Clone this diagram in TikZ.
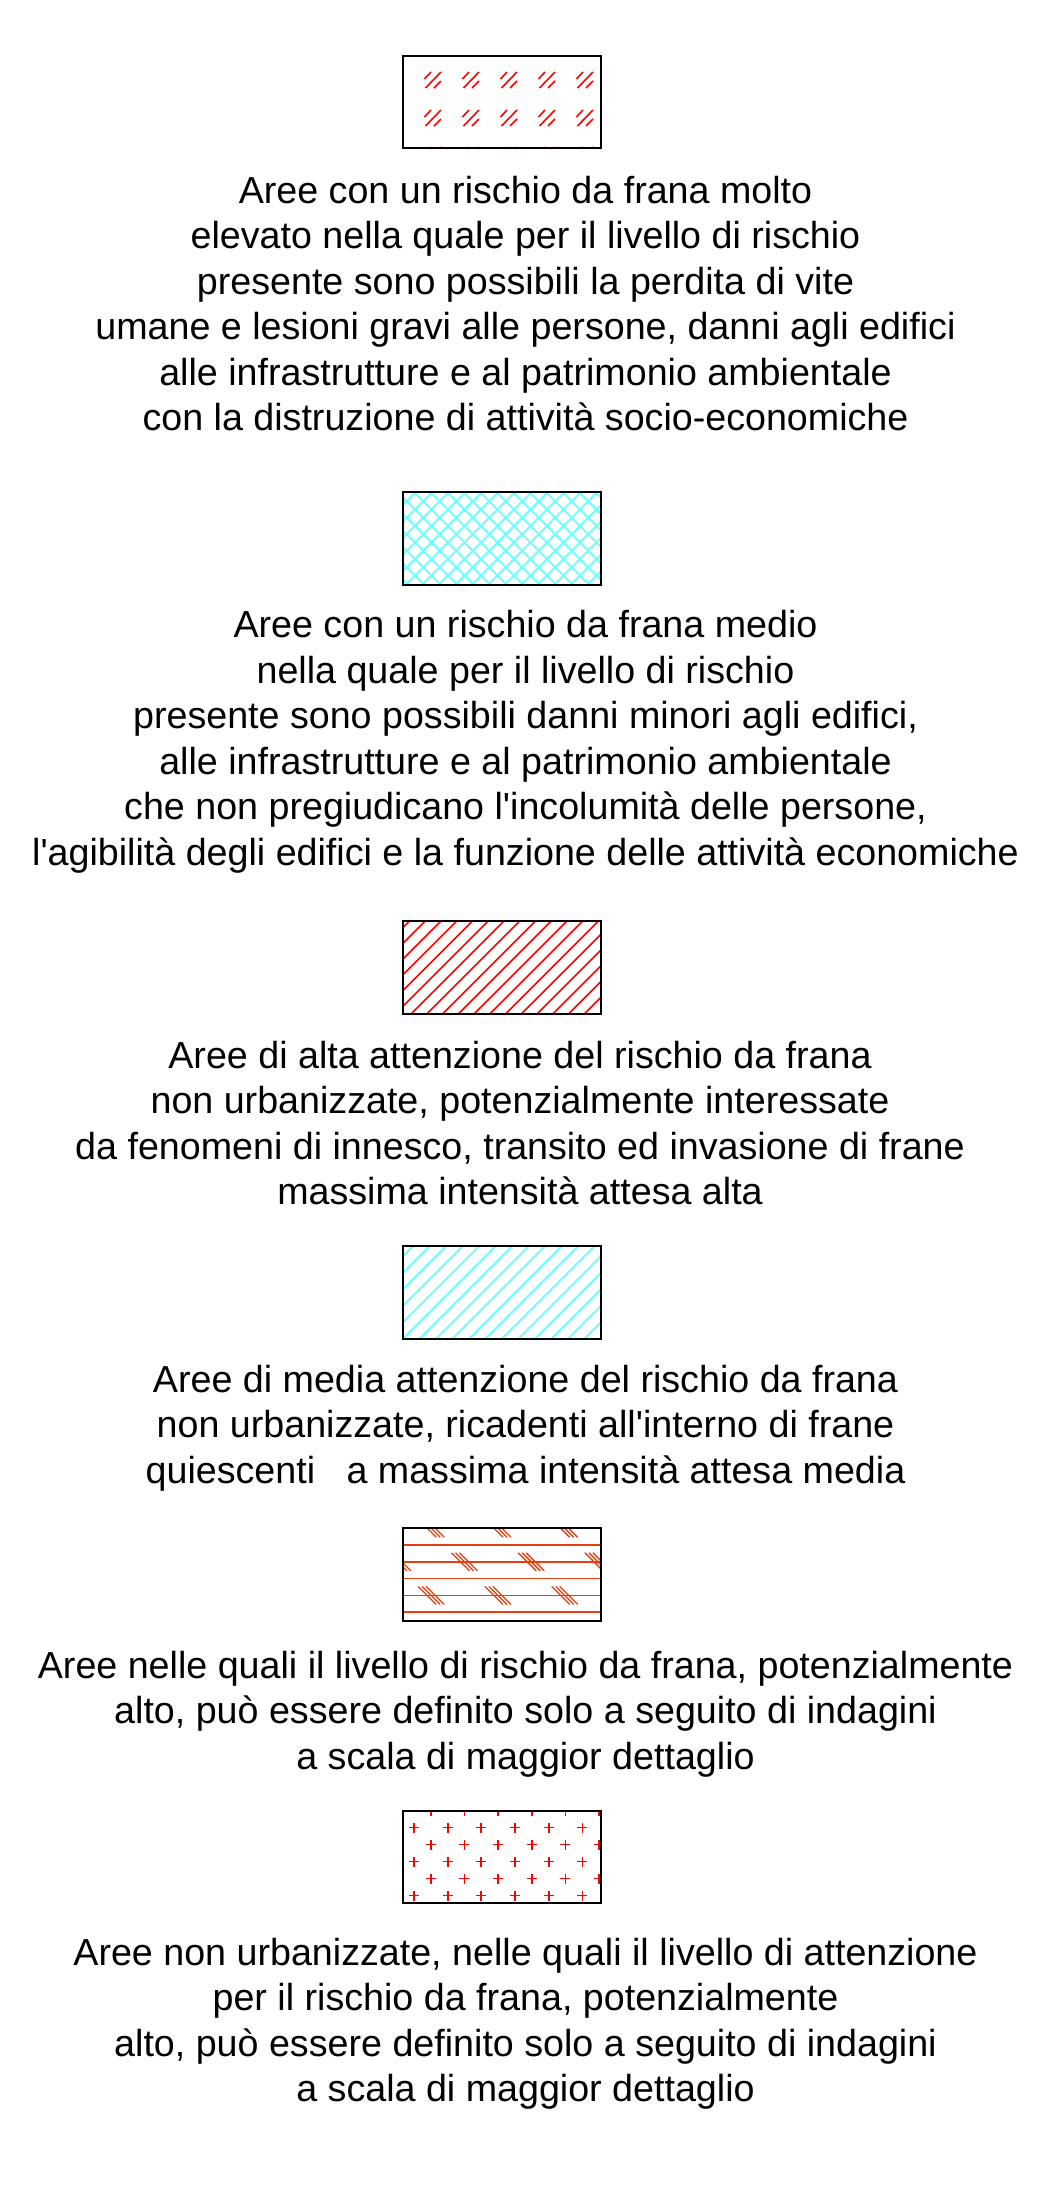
\documentclass[tikz,border=0pt]{standalone}
\usepackage{fontspec}
\newfontfamily\legfont{Liberation Sans}[Ligatures=TeXOff]
\definecolor{hred}{RGB}{255,0,0}
\definecolor{hcyan}{RGB}{110,255,255}
\definecolor{horange}{RGB}{230,64,16}
\begin{document}
\begin{tikzpicture}[x=1pt,y=-1pt,
  legtext/.style={font=\legfont\fontsize{37.65}{45.5}\selectfont, align=center, inner sep=0pt, anchor=north},
  swatchborder/.style={draw=black, line width=2pt},
  redmark/.style={draw=hred, line width=1.6pt},
  cyanline/.style={draw=hcyan, line width=2pt},
  redline/.style={draw=hred, line width=1.6pt},
  orangeline/.style={draw=horange, line width=1.5pt},
  orangemark/.style={draw=horange, line width=1.3pt},
  plusmark/.style={draw=hred, line width=1.7pt}]
\useasboundingbox[fill=white] (0,0) rectangle (1045,2212);

% ---------- swatch 1 : red double ticks
\begin{scope}
  \clip (403,56) rectangle (601,148);
  \foreach \mx in {424,462,500,538,576}{
    \foreach \my in {72,110,147}{
      \draw[redmark] ({\mx+0.5},{\my+7}) -- ({\mx+7},{\my});
      \draw[redmark] ({\mx+1.5},{\my+16}) -- ({\mx+17},{\my});
      \draw[redmark] ({\mx+10},{\my+16}) -- ({\mx+17},{\my+9});
    }
  }
\end{scope}
\draw[swatchborder] (403,56) rectangle (601,148);

% ---------- swatch 2 : cyan crosshatch
\begin{scope}
  \clip (403,492) rectangle (601,585);
  \foreach \c in {875,891.5,...,1200}{
    \draw[cyanline] ({\c-585},585) -- ({\c-492},492);
  }
  \foreach \d in {-210,-193.5,...,125}{
    \draw[cyanline] ({\d+492},492) -- ({\d+585},585);
  }
\end{scope}
\draw[swatchborder] (403,492) rectangle (601,585);

% ---------- swatch 3 : red diagonal hatch
\begin{scope}
  \clip (403,921) rectangle (601,1014);
  \foreach \c in {1314.75,1330.5,...,1625}{
    \draw[redline] ({\c-1014},1014) -- ({\c-921},921);
  }
\end{scope}
\draw[swatchborder] (403,921) rectangle (601,1014);

% ---------- swatch 4 : cyan diagonal hatch
\begin{scope}
  \clip (403,1246) rectangle (601,1339);
  \foreach \c in {1626.3,1642.8,...,1950}{
    \draw[cyanline] ({\c-1339},1339) -- ({\c-1246},1246);
  }
\end{scope}
\draw[swatchborder] (403,1246) rectangle (601,1339);

% ---------- swatch 5 : orange lines with triple ticks
\begin{scope}
  \clip (403,1528) rectangle (601,1621);
  \foreach \ly in {1545,1561.8,1578.6,1595.4,1612.2}{
    \draw[orangeline] (403,\ly) -- (601,\ly);
  }
  \foreach \cy/\cx in {1528.2/431.2,1595.4/431.2,1561.8/397.8}{
    \foreach \k in {0,1,2,3}{
      \foreach \o in {-4,0,4}{
        \draw[orangemark] ({\cx+66.7*\k-9+\o},{\cy-9}) -- ({\cx+66.7*\k+9+\o},{\cy+9});
      }
    }
  }
\end{scope}
\draw[swatchborder] (403,1528) rectangle (601,1621);

% ---------- swatch 6 : red plus signs
\begin{scope}
  \clip (403,1811) rectangle (601,1903);
  \foreach \py in {1827.5,1861.5,1895.5}{
    \foreach \m in {0,...,5}{
      \draw[plusmark] ({414+33.67*\m-5},\py) -- ({414+33.67*\m+5},\py)
                      ({414+33.67*\m},{\py-5}) -- ({414+33.67*\m},{\py+5});
    }
  }
  \foreach \py in {1810.5,1844.5,1878.5}{
    \foreach \m in {0,...,5}{
      \draw[plusmark] ({430.7+33.67*\m-5},\py) -- ({430.7+33.67*\m+5},\py)
                      ({430.7+33.67*\m},{\py-5}) -- ({430.7+33.67*\m},{\py+5});
    }
  }
\end{scope}
\draw[swatchborder] (403,1811) rectangle (601,1903);

% ---------- texts
\node[legtext] (t1) at (525.5,173) {\rule{0pt}{30pt}Aree con un rischio da frana molto\\
elevato nella quale per il livello di rischio\\
presente sono possibili la perdita di vite\\
umane e lesioni gravi alle persone, danni agli edifici\\
alle infrastrutture e al patrimonio ambientale\\
con la distruzione di attività socio-economiche};

\node[legtext] (t2) at (525.5,607.5) {\rule{0pt}{30pt}Aree con un rischio da frana medio\\
nella quale per il livello di rischio\\
presente sono possibili danni minori agli edifici,\\
alle infrastrutture e al patrimonio ambientale\\
che non pregiudicano l'incolumità delle persone,\\
l'agibilità degli edifici e la funzione delle attività economiche};

\node[legtext] (t3) at (520,1038) {\rule{0pt}{30pt}Aree di alta attenzione del rischio da frana\\
non urbanizzate, potenzialmente interessate\\
da fenomeni di innesco, transito ed invasione di frane\\
massima intensità attesa alta};

\node[legtext] (t4) at (525.5,1362) {\rule{0pt}{30pt}Aree di media attenzione del rischio da frana\\
non urbanizzate, ricadenti all'interno di frane\\
quiescenti\ \ \ a massima intensità attesa media};

\node[legtext] (t5) at (525.5,1648) {\rule{0pt}{30pt}Aree nelle quali il livello di rischio da frana, potenzialmente\\
alto, può essere definito solo a seguito di indagini\\
a scala di maggior dettaglio};

\node[legtext] (t6) at (525.5,1935) {\rule{0pt}{30pt}Aree non urbanizzate, nelle quali il livello di attenzione\\
per il rischio da frana, potenzialmente\\
alto, può essere definito solo a seguito di indagini\\
a scala di maggior dettaglio};
\end{tikzpicture}
\end{document}
